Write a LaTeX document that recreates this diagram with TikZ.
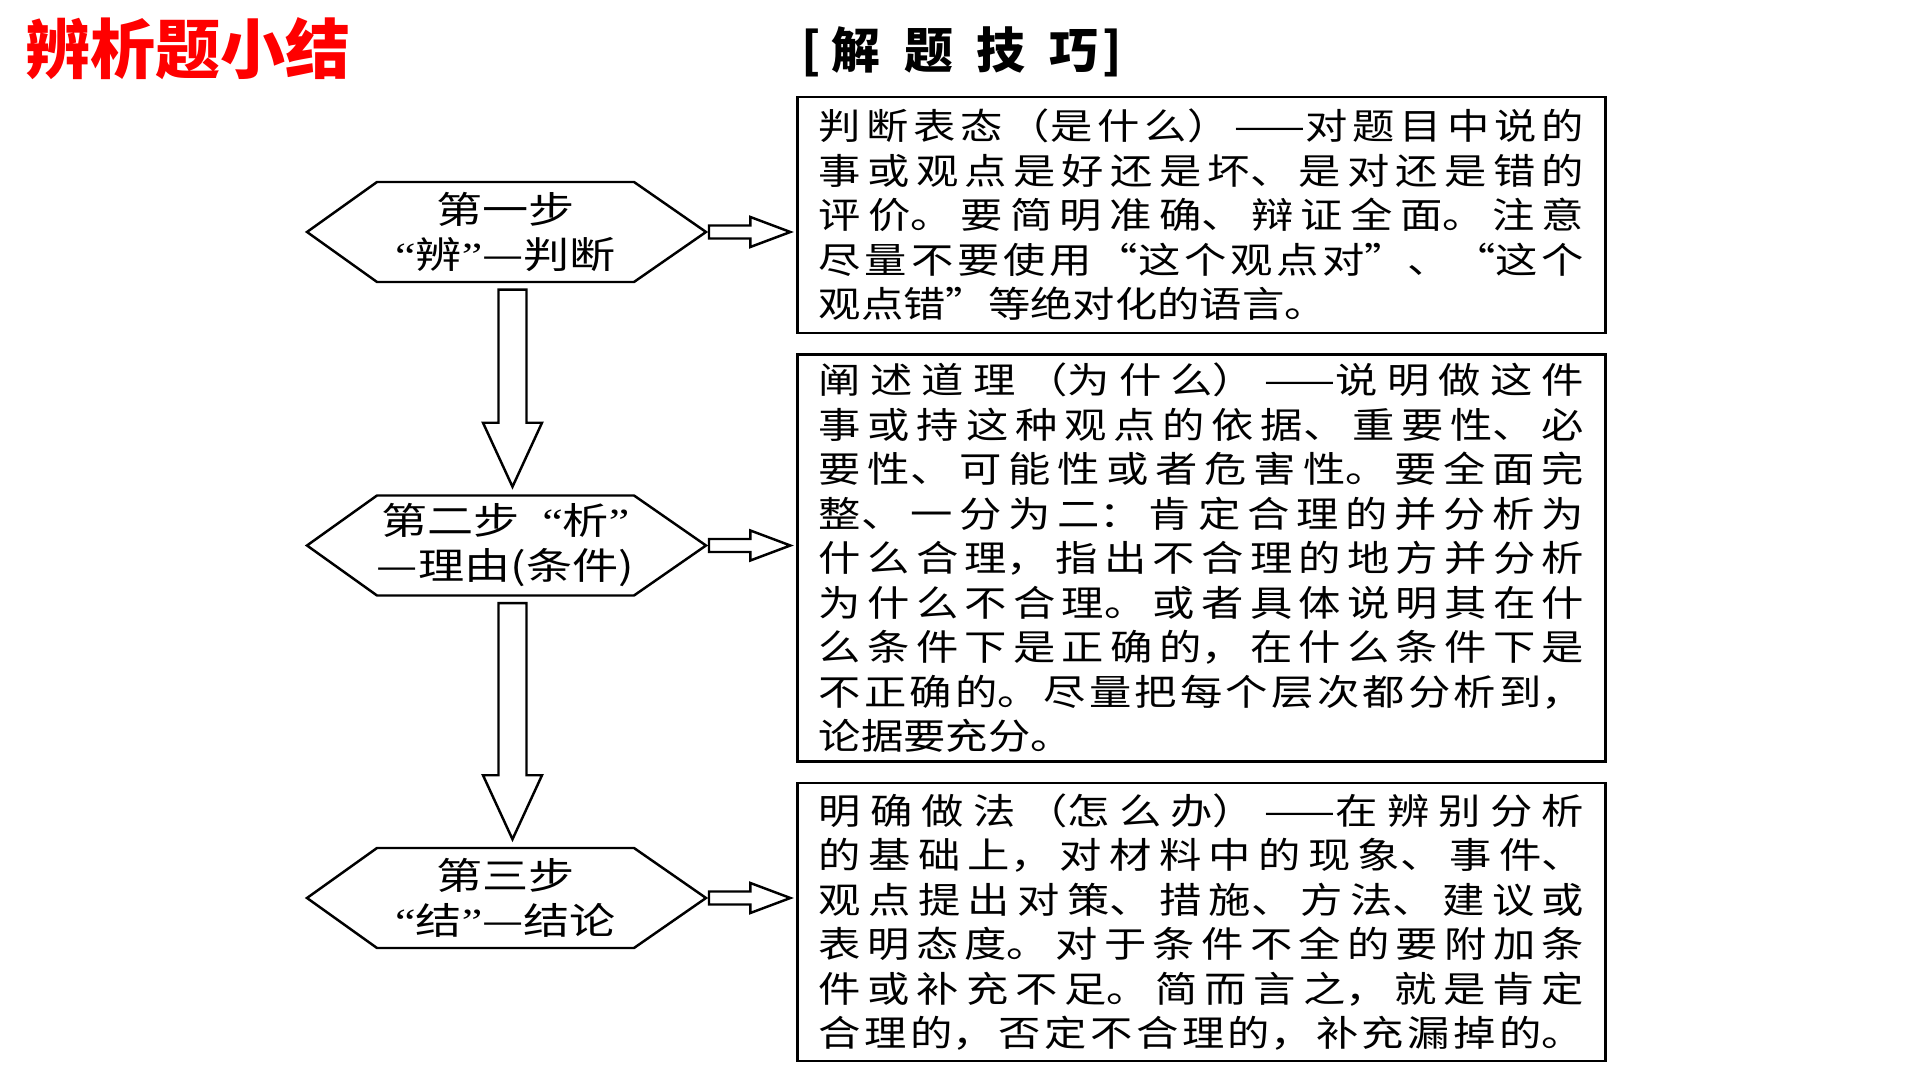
\documentclass[tikz,border=0pt]{standalone}
\usepackage{fontspec}
\usetikzlibrary{calc}

\newfontfamily\cjk[FakeStretch=1.25]{Noto Sans CJK SC}
\newfontfamily\boxfont[FakeStretch=1.18]{Noto Sans CJK SC}
\newfontfamily\headfont{Noto Sans CJK SC}
\newfontfamily\quotefont[FakeStretch=1.25]{Liberation Serif}
\newcommand{\oq}{{\quotefont “}}
\newcommand{\cq}{{\quotefont ”}}
\XeTeXlinebreaklocale "zh"
\XeTeXlinebreakskip=0pt plus 3pt
\tolerance=9999
\hbadness=10000
\definecolor{titlered}{RGB}{255,0,0}

\tikzset{
  hexnode/.style={minimum width=2.57cm, minimum height=1cm, inner sep=0pt, align=center,
    font=\cjk\fontsize{10.5pt}{12.8pt}\selectfont},
  textbox/.style={draw, line width=0.8pt, text width=7.65cm, inner xsep=0.21cm, inner ysep=0pt,
    align=justify, font=\boxfont\fontsize{10.2pt}{12.66pt}\selectfont},
  outline/.style={line width=0.7pt}
}

\begin{document}
\begin{tikzpicture}[x=0.01cm, y=-0.01cm]
\useasboundingbox (0,0) rectangle (1920,1080);

% headings
\node[anchor=west, inner sep=0pt, text=titlered, font=\headfont\bfseries\fontsize{18.5pt}{20pt}\selectfont] (title) at (25,49) {辨析题小结};
\node[inner sep=0pt, font=\headfont\bfseries\fontsize{13.9pt}{16pt}\selectfont] (tips) at (962,52) {[\hspace{0.1cm}解\hspace{0.24cm}题\hspace{0.24cm}技\hspace{0.24cm}巧\hspace{0.04cm}]};

% steps
\node[hexnode] (s1) at (505.5,232) {第一步\\\oq 辨\cq —判断};
\node[hexnode] (s2) at (505.5,545.5) {第二步\hspace{0.6em}\oq 析\cq\\—理由(条件)};
\node[hexnode] (s3) at (505.5,898) {第三步\\\oq 结\cq —结论};

% explanations
\node[textbox, minimum height=2.36cm] (b1) at (1201.5,215) {\noindent
判断表态（是什么）——对题目中说的\linebreak
事或观点是好还是坏、是对还是错的\linebreak
评价。要简明准确、辩证全面。注意\linebreak
尽量不要使用“这个观点对”、“这个\linebreak
观点错”等绝对化的语言。};
\node[textbox, minimum height=4.06cm] (b2) at (1201.5,558) {\noindent
阐述道理（为什么）——说明做这件\linebreak
事或持这种观点的依据、重要性、必\linebreak
要性、可能性或者危害性。要全面完\linebreak
整、一分为二：肯定合理的并分析为\linebreak
什么合理，指出不合理的地方并分析\linebreak
为什么不合理。或者具体说明其在什\linebreak
么条件下是正确的，在什么条件下是\linebreak
不正确的。尽量把每个层次都分析到，\linebreak
论据要充分。};
\node[textbox, minimum height=2.78cm] (b3) at (1201.5,922) {\noindent
明确做法（怎么办）——在辨别分析\linebreak
的基础上，对材料中的现象、事件、\linebreak
观点提出对策、措施、方法、建议或\linebreak
表明态度。对于条件不全的要附加条\linebreak
件或补充不足。简而言之，就是肯定\linebreak
合理的，否定不合理的，补充漏掉的。\parfillskip=0pt\par};

% hexagon outlines
\foreach \s in {s1,s2,s3}
    \draw[outline] ($(\s.center)+(-128.5,-50)$) -- ($(\s.center)+(128.5,-50)$)
        -- ($(\s.center)+(200.5,0)$) coordinate (\s-e)
        -- ($(\s.center)+(128.5,50)$) -- ($(\s.center)+(-128.5,50)$)
        -- ($(\s.center)+(-198.5,0)$) -- cycle;

% arrows to the boxes
\foreach \i in {1,2,3} {
    \coordinate (from) at ($(s\i-e)+(3,0)$);
    \coordinate (to) at ($(from -| b\i.west)+(-6,0)$);
    \draw[outline] ($(from)+(0,-6.5)$) -- ($(to)+(-40,-6.5)$) -- ($(to)+(-40,-15)$) -- (to)
        -- ($(to)+(-40,15)$) -- ($(to)+(-40,6.5)$) -- ($(from)+(0,6.5)$) -- cycle;
}

% arrows between the steps
\foreach \i/\j in {1/2,2/3} {
    \coordinate (from) at ($(s\i.south)+(7,7)$);
    \coordinate (to) at ($(from |- s\j.north)+(0,-8)$);
    \draw[outline] ($(from)+(-14,0)$) -- ($(to)+(-14,-64)$) -- ($(to)+(-29.5,-64)$) -- (to)
        -- ($(to)+(29.5,-64)$) -- ($(to)+(14,-64)$) -- ($(from)+(14,0)$) -- cycle;
}
\end{tikzpicture}
\end{document}
